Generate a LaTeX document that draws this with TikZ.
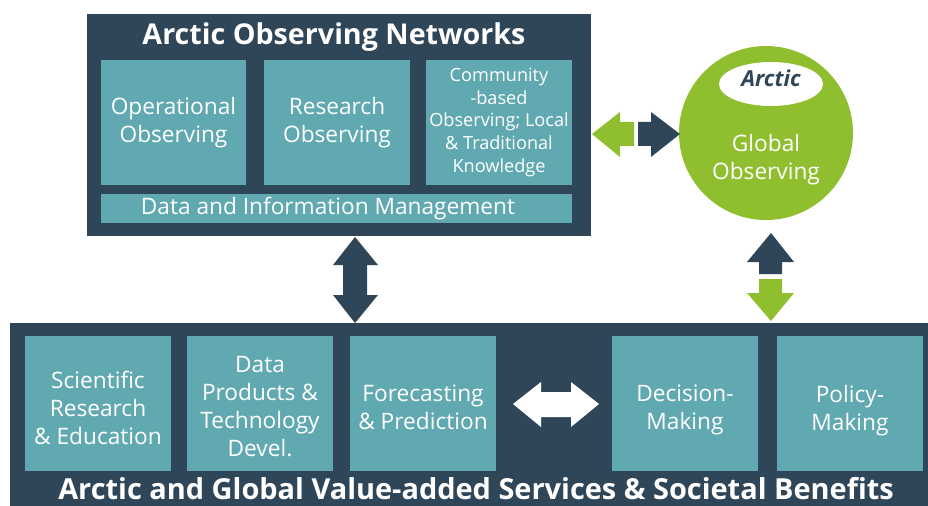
\documentclass[tikz,border=0pt]{standalone}
\usepackage{fontspec}
\setmainfont{Open Sans}
\usepackage{tikz}
\usetikzlibrary{positioning}
\definecolor{navy}{RGB}{47,70,89}
\definecolor{teal}{RGB}{97,169,176}
\definecolor{lime}{RGB}{143,191,46}
\tikzset{
  panel/.style = {fill=navy, draw=none},
  tile/.style = {fill=teal, draw=none, text=white, align=center, inner sep=0pt,
                 font=\fontsize{17}{21}\selectfont},
  title/.style = {text=white, font=\fontsize{21.5}{24}\selectfont\bfseries},
}
\begin{document}
\begin{tikzpicture}[x=0.75pt, y=-0.75pt]
        \useasboundingbox (0,0) rectangle (928,506);
        % observing networks
        \fill [panel] (87,14) rectangle (591,236);
        \node [title] (ntitle) at (334,37) {Arctic Observing Networks};
        \path [tile] (101,60) rectangle (246,185) node[midway] (oper) {Operational\\Observing};
        \path [tile] (264,60) rectangle (410,185) node[midway] (res) {Research\\Observing};
        \path [tile] (426,60) rectangle (572,185)
            node[midway, font=\fontsize{13.6}{17}\selectfont] (comm) {Community\\-based\\Observing; Local\\\& Traditional\\Knowledge};
        \path [tile] (101,194) rectangle (572,223);
        \node [text=white, font=\fontsize{17}{21}\selectfont] (data) at (328,209) {Data and Information Management};
        
        % global observing
        \fill [lime] (766,133) circle (87);
        \fill [white] (771,84) ellipse (52 and 22);
        \node [text=navy, font=\fontsize{16.5}{20}\selectfont\bfseries\itshape] (arc) at (771,78) {Arctic};
        \node [text=white, align=center, font=\fontsize{17}{21}\selectfont] (glob) at (766,160) {Global\\Observing};
        
        % services and benefits
        \fill [panel] (10,323) rectangle (928,506);
        \path [tile] (25,336) rectangle (171,471) node[midway, yshift=-3] (sci) {Scientific\\Research\\\& Education};
        \path [tile] (187,336) rectangle (333,471) node[midway, yshift=-2] (prod) {Data\\Products \&\\Technology\\Devel.};
        \path [tile] (350,336) rectangle (496,471) node[midway, yshift=-3] (fore) {Forecasting\\\& Prediction};
        \path [tile] (612,336) rectangle (758,471) node[midway, yshift=-5] (dec) {Decision-\\Making};
        \path [tile] (777,336) rectangle (923,471) node[midway, yshift=-5] (pol) {Policy-\\Making};
        \node [title, font=\fontsize{21.7}{24}\selectfont\bfseries] (btitle) at (476,489) {Arctic and Global Value-added Services \& Societal Benefits};
        
        % block arrows
        \fill [lime] (592,134) -- (620,112) -- (620,122) -- (634,122) -- (634,146) -- (620,146) -- (620,157) -- cycle;
        \fill [navy] (680,134) -- (651,112) -- (651,122) -- (638,122) -- (638,146) -- (651,146) -- (651,157) -- cycle;
        \fill [navy] (771,233) -- (794,262) -- (782,262) -- (782,274) -- (759,274) -- (759,262) -- (747,262) -- cycle;
        \fill [lime] (771,321) -- (794,293) -- (782,293) -- (782,279) -- (759,279) -- (759,293) -- (747,293) -- cycle;
        \fill [navy] (355,237) -- (378,265) -- (367,265) -- (367,295) -- (378,295) -- (355,323)
            -- (333,295) -- (343,295) -- (343,265) -- (333,265) -- cycle;
        \fill [white] (513,404) -- (541,382) -- (541,392) -- (571,392) -- (571,382) -- (599,404)
            -- (571,427) -- (571,417) -- (541,417) -- (541,427) -- cycle;
\end{tikzpicture}
\end{document}
